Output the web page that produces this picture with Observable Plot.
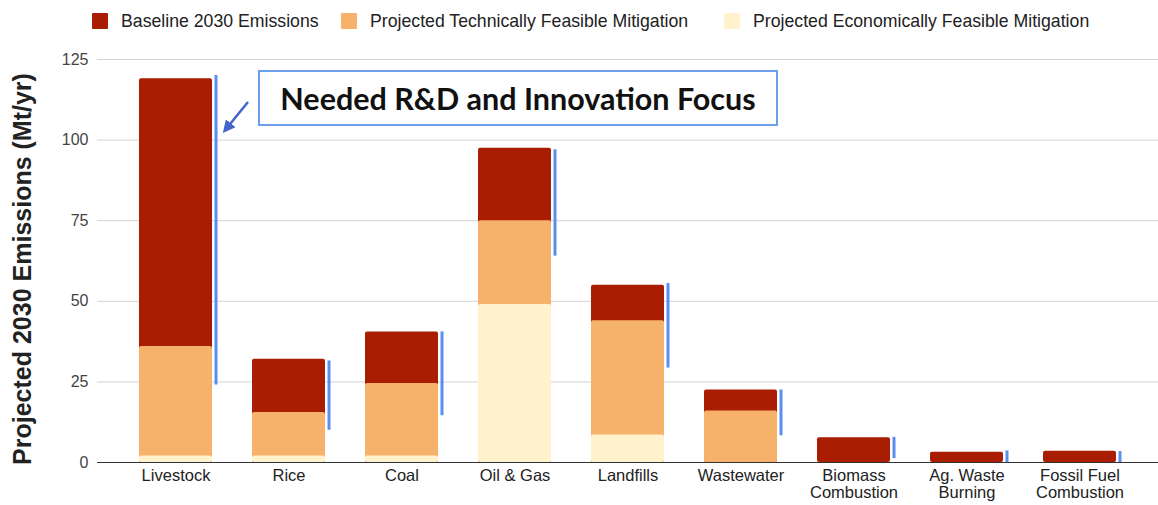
<!DOCTYPE html>
<html>
<head>
<meta charset="utf-8">
<script src="https://cdn.jsdelivr.net/npm/d3@7"></script>
<script src="https://cdn.jsdelivr.net/npm/@observablehq/plot@0.6"></script>
<style>
  body { margin: 0; background: #fff; font-family: "Liberation Sans", Arial, sans-serif; }
  #wrap { position: relative; width: 1158px; height: 505px; overflow: hidden; background: #fff; }
  #legend { position: relative; height: 42px; font-size: 17.7px; color: #222; }
  .item { position: absolute; top: 0; height: 42px; display: flex; align-items: center; white-space: nowrap; }
  .sw { width: 16px; height: 16px; margin-right: 13px; border-radius: 1px; }
  #chart svg { display: block; }
  #note { position: absolute; left: 258px; top: 70px; width: 516px; height: 52px; border: 2.5px solid #6d9eeb;
          background: #fff; display: flex; align-items: center; justify-content: center;
          font-family: Lato, "Open Sans", sans-serif; font-weight: bold; font-size: 30.5px; color: #111; }
  #arrow { position: absolute; left: 0; top: 0; pointer-events: none; }
</style>
</head>
<body>
<div id="wrap">
  <div id="legend"></div>
  <div id="chart"></div>
  <div id="note"></div>
  <svg id="arrow" width="1158" height="505">
    <defs>
      <marker id="ah" viewBox="0 0 10 10" refX="6" refY="5" markerWidth="5" markerHeight="5" orient="auto-start-reverse">
        <path d="M0,0 L10,5 L0,10 z" fill="#4466cc"></path>
      </marker>
    </defs>
    <line x1="248" y1="102" x2="226" y2="129" stroke="#4466cc" stroke-width="2.5" marker-end="url(#ah)"></line>
  </svg>
</div>
<script>
// ---- data ----
const categories = ["Livestock", "Rice", "Coal", "Oil & Gas", "Landfills", "Wastewater",
  "Biomass\nCombustion", "Ag. Waste\nBurning", "Fossil Fuel\nCombustion"];
const baseline  = [119, 32, 40.5, 97.5, 55, 22.5, 7.7, 3.2, 3.5];
const technical = [36, 15.5, 24.5, 75, 44, 16, 0, 0, 0];
const economic  = [2, 2, 2, 49, 8.5, 0, 0, 0, 0];
const rdTop     = [120, 31.5, 40.5, 97, 55.5, 22.5, 7.8, 3.6, 3.4];
const rdBottom  = [24, 10, 14.5, 64, 29.3, 8.3, 1.2, 0, 0];
const yTicks = [0, 25, 50, 75, 100, 125];
const seriesNames = ["Baseline 2030 Emissions", "Projected Technically Feasible Mitigation", "Projected Economically Feasible Mitigation"];
const seriesColors = ["#a91d02", "#f6b26b", "#fff2cc"];
const yLabel = "Projected 2030 Emissions (Mt/yr)";
const noteText = "Needed R&D and Innovation Focus";

const rows = categories.map((c, i) => ({
  cat: c, baseline: baseline[i], technical: technical[i], economic: economic[i],
  rdTop: rdTop[i], rdBottom: rdBottom[i]
}));

// ---- legend ----
const legendLeft = [92, 341, 724];
const legend = document.getElementById("legend");
seriesNames.forEach((n, i) => {
  const it = document.createElement("div");
  it.className = "item";
  it.style.left = legendLeft[i] + "px";
  it.innerHTML = `<span class="sw" style="background:${seriesColors[i]}"></span><span>${n}</span>`;
  legend.appendChild(it);
});
document.getElementById("note").textContent = noteText;

// ---- chart ----
const chart = Plot.plot({
  width: 1158,
  height: 463,
  marginLeft: 97,
  marginRight: 0,
  marginTop: 17,
  marginBottom: 43,
  style: { fontFamily: "Liberation Sans, Arial, sans-serif", fontSize: "15px", background: "#fff", overflow: "visible" },
  x: { domain: categories, padding: 0.35 },
  y: { domain: [0, 125] },
  marks: [
    Plot.ruleY(yTicks.filter(d => d > 0), { stroke: "#d4d4d4", strokeWidth: 1 }),
    Plot.barY(rows, { x: "cat", y: "baseline", fill: seriesColors[0], rx: 2 }),
    Plot.barY(rows.filter(d => d.technical > 0), { x: "cat", y: "technical", fill: seriesColors[1], rx: 2 }),
    Plot.barY(rows.filter(d => d.economic > 0), { x: "cat", y: "economic", fill: seriesColors[2], rx: 2 }),
    Plot.ruleX(rows, { x: "cat", y1: "rdBottom", y2: "rdTop", stroke: "#5a8ff0", strokeWidth: 3, dx: 40 }),
    Plot.ruleY([0], { stroke: "#333", strokeWidth: 1.2 }),
    Plot.axisY({ ticks: yTicks, tickSize: 0, tickPadding: 9, fontSize: 16, fill: "#444", label: null }),
    Plot.axisX({ tickSize: 0, tickPadding: 6, fontSize: 16.5, fill: "#222", lineHeight: 1.04, label: null }),
    Plot.text([yLabel], { text: d => d, frameAnchor: "left", textAnchor: "middle", rotate: -90, dx: -75, dy: 8,
      fontSize: 25, fontWeight: "bold", fill: "#222" })
  ]
});
document.getElementById("chart").appendChild(chart);
</script>
</body>
</html>
